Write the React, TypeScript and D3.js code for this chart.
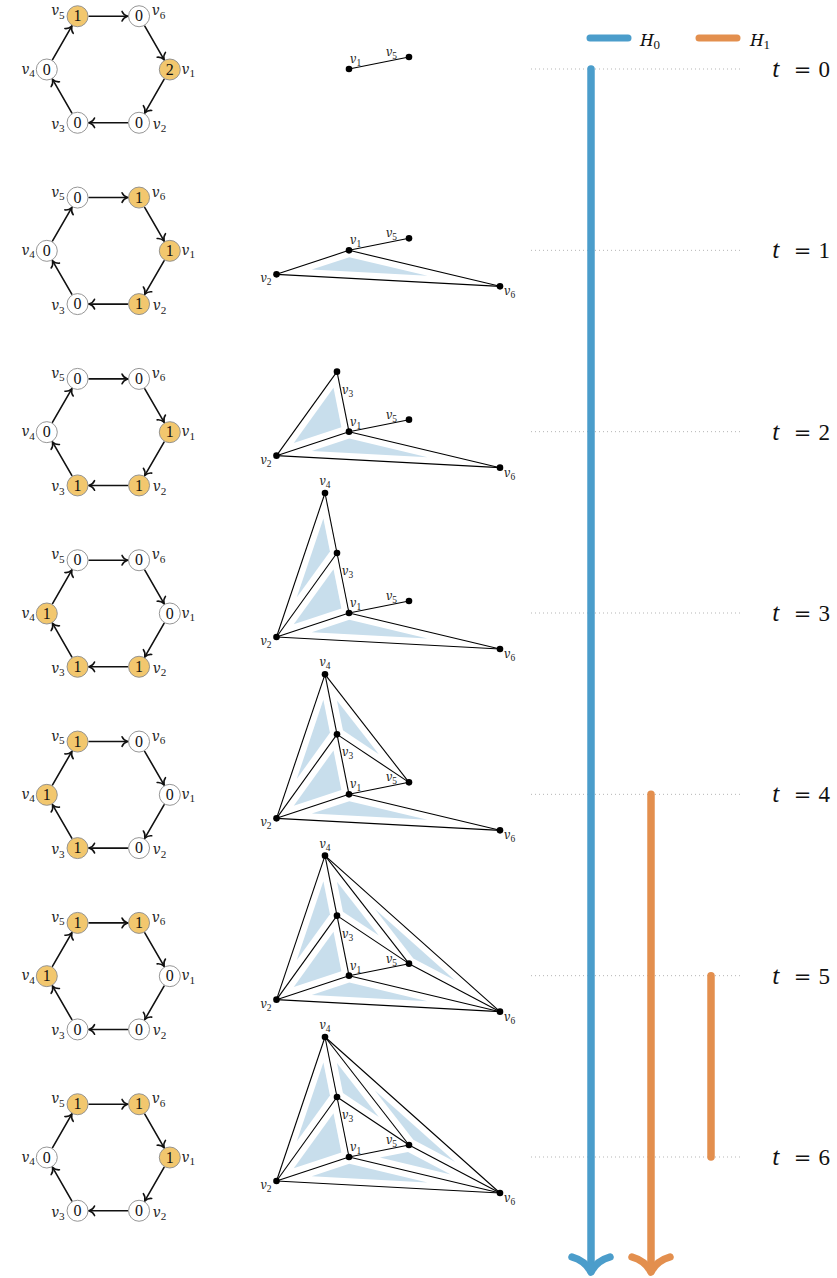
import React from 'react';
import * as d3 from 'd3';

// filtration steps
const times = [0, 1, 2, 3, 4, 5, 6];
const vertexNames = ['1', '2', '3', '4', '5', '6'];

// chip counts on the cycle graph, order v1..v6, one row per t
const chipCounts = [
  [2, 0, 0, 0, 1, 0],
  [1, 1, 0, 0, 0, 1],
  [1, 1, 1, 0, 0, 0],
  [0, 1, 1, 1, 0, 0],
  [0, 0, 1, 1, 1, 0],
  [0, 0, 0, 1, 1, 1],
  [1, 0, 0, 0, 1, 1],
];

// simplicial complex: birth time of every simplex
const vertexBirth = [0, 1, 2, 3, 0, 1];
const edges = [
  [1, 5, 0], [1, 2, 1], [1, 6, 1], [2, 6, 1], [1, 3, 2], [2, 3, 2],
  [3, 4, 3], [2, 4, 3], [3, 5, 4], [4, 5, 4], [4, 6, 5], [5, 6, 5],
];
const triangles = [
  [1, 2, 6, 1], [1, 2, 3, 2], [2, 3, 4, 3], [3, 4, 5, 4], [4, 5, 6, 5], [1, 5, 6, 6],
];
// embedding of the vertices (local units, v1 at origin)
const embedX = [0, -72.5, -12, -24, 60, 151];
const embedY = [0, 24, -60, -120, -12, 36];

// persistence barcode
const barDims = [0, 1, 1];
const barBirth = [0, 4, 5];
const barDeath = [null, null, 6];

const BLUE = '#4b9dcb';
const ORANGE = '#e38f4e';
const YELLOW = '#f2c76e';
const SHADE = '#c8deec';
const serif = { fontFamily: "'Liberation Serif'" };
// Liberation Serif italic falls back to a sans face here, Noto Serif italic is safe
const ital = { fontFamily: "'Noto Serif'", fontStyle: 'italic' };

const yScale = d3.scaleLinear().domain([0, 6]).range([69, 1157]);
const xC = d3.scaleLinear().domain([0, 1]).range([349, 350]);
const yC = d3.scaleLinear().domain([0, 1]).range([0, 1]);
const barX = d3.scalePoint<number>().domain([0, 1, 2]).range([591, 711]);
const line = d3.line();

const hexCx = 108.3;
const hexR = 61.5;
const nodeR = 10.5;
const hexLabel = [
  [12, 4, 'start'], [14, 6, 'start'], [-13, 6, 'end'],
  [-12, 4, 'end'], [-13, -1, 'end'], [13, -1, 'start'],
];
const cxLabel = [
  [1, -6, 'start'], [-5, 8, 'end'], [5, 22, 'start'],
  [0, -8, 'middle'], [-12, -1, 'end'], [4, 9, 'start'],
];

function arrowHead(tip: number[], dir: number[], a: number, b: number) {
  const [ux, uy] = dir;
  const nx = -uy, ny = ux;
  const p = (al: number, lat: number) => [tip[0] - ux * al + nx * lat, tip[1] - uy * al + ny * lat];
  const e1 = p(a, b), c1 = p(a * 0.75, b * 0.3), e2 = p(a, -b), c2 = p(a * 0.75, -b * 0.3);
  return `M${e1}Q${c1} ${tip}Q${c2} ${e2}`;
}

function inset(pts: number[][], d: number) {
  const cx = (pts[0][0] + pts[1][0] + pts[2][0]) / 3;
  const cy = (pts[0][1] + pts[1][1] + pts[2][1]) / 3;
  const offs = pts.map((p, i) => {
    const q = pts[(i + 1) % 3];
    const dx = q[0] - p[0], dy = q[1] - p[1];
    const L = Math.hypot(dx, dy);
    let nx = -dy / L, ny = dx / L;
    if ((cx - p[0]) * nx + (cy - p[1]) * ny < 0) { nx = -nx; ny = -ny; }
    return { px: p[0] + nx * d, py: p[1] + ny * d, dx, dy };
  });
  return pts.map((_, i) => {
    const A = offs[(i + 2) % 3], B = offs[i];
    const den = A.dx * B.dy - A.dy * B.dx;
    const s = ((B.px - A.px) * B.dy - (B.py - A.py) * B.dx) / den;
    return [A.px + A.dx * s, A.py + A.dy * s] as [number, number];
  });
}

const VLabel = ({ x, y, name, fs, anchor }: any) => (
  <text x={x} y={y} style={serif} fontSize={fs} textAnchor={anchor} fill="#222">
    <tspan style={ital} fontSize={fs * 0.88}>v</tspan>
    <tspan fontSize={fs * 0.7} dy={fs * 0.22}>{name}</tspan>
  </text>
);

const Hexagon = ({ t }: { t: number }) => {
  const cy = yScale(t) + 0.5;
  const pos = vertexNames.map((_, i) => {
    const ang = (i * Math.PI) / 3;
    return [hexCx + hexR * Math.cos(ang), cy + hexR * Math.sin(ang)];
  });
  return (
    <g>
      {pos.map((p, i) => {
        const q = pos[(i + 1) % 6];
        const L = Math.hypot(q[0] - p[0], q[1] - p[1]);
        const u = [(q[0] - p[0]) / L, (q[1] - p[1]) / L];
        const s = [p[0] + u[0] * (nodeR + 1), p[1] + u[1] * (nodeR + 1)];
        const e = [q[0] - u[0] * (nodeR + 1), q[1] - u[1] * (nodeR + 1)];
        return (
          <g key={i} stroke="#111" strokeWidth={1.6} fill="none" strokeLinecap="round">
            <path d={line([s as [number, number], e as [number, number]]) as string} />
            <path d={arrowHead(e, u, 5.5, 4.8)} />
          </g>
        );
      })}
      {pos.map((p, i) => (
        <g key={'n' + i}>
          <circle cx={p[0]} cy={p[1]} r={nodeR} fill={chipCounts[t][i] > 0 ? YELLOW : '#fff'}
            stroke="#8a8a8a" strokeWidth={0.9} />
          <text x={p[0]} y={p[1] + 5.2} textAnchor="middle" style={serif} fontSize={16} fill="#111">
            {chipCounts[t][i]}
          </text>
          <VLabel x={p[0] + (hexLabel[i][0] as number)} y={p[1] + (hexLabel[i][1] as number)}
            name={vertexNames[i]} fs={16} anchor={hexLabel[i][2]} />
        </g>
      ))}
    </g>
  );
};

const Complex = ({ t }: { t: number }) => {
  const ty = yScale(t);
  const P = (v: number): [number, number] => [xC(embedX[v - 1]), ty + yC(embedY[v - 1])];
  return (
    <g>
      {triangles.filter(tr => tr[3] <= t).map((tr, i) => (
        <path key={'t' + i} d={(line(inset([P(tr[0]), P(tr[1]), P(tr[2])], 6.6)) as string) + 'Z'}
          fill={SHADE} />
      ))}
      {edges.filter(e => e[2] <= t).map((e, i) => (
        <path key={'e' + i} d={line([P(e[0]), P(e[1])]) as string} stroke="#000" strokeWidth={1.1} />
      ))}
      {vertexBirth.map((b, i) => b <= t ? (
        <g key={'v' + i}>
          <circle cx={P(i + 1)[0]} cy={P(i + 1)[1]} r={3.3} fill="#000" />
          <VLabel x={P(i + 1)[0] + (cxLabel[i][0] as number)} y={P(i + 1)[1] + (cxLabel[i][1] as number)}
            name={vertexNames[i]} fs={13.5} anchor={cxLabel[i][2]} />
        </g>
      ) : null)}
    </g>
  );
};

export default function App() {
  const arrowTip = 1272;
  return (
    <svg width={837} height={1278} style={{ position: 'absolute', left: 0, top: 0, background: '#fff' }}>
      {times.map(t => (
        <g key={'r' + t}>
          <line x1={531} x2={743} y1={yScale(t)} y2={yScale(t)} stroke="#b5b5b5" strokeWidth={1}
            strokeDasharray="1 3" />
          <text x={772} y={yScale(t) + 8} style={ital} fontSize={21} fill="#111">t</text>
          <text x={802.5} y={yScale(t) + 8} style={{ fontFamily: "'DejaVu Serif'" }} fontSize={21}
            fill="#111" textAnchor="middle">=</text>
          <text x={830} y={yScale(t) + 8} style={serif} fontSize={23} fill="#111" textAnchor="end">{t}</text>
          <Hexagon t={t} />
          <Complex t={t} />
        </g>
      ))}
      {barDims.map((dim, i) => {
        const x = barX(i) as number;
        const col = dim === 0 ? BLUE : ORANGE;
        const y0 = yScale(barBirth[i]);
        const d = barDeath[i];
        const y1 = d === null ? arrowTip - 2 : yScale(d);
        return (
          <g key={'b' + i} stroke={col} strokeWidth={7.5} strokeLinecap="round" fill="none">
            <path d={line([[x, y0], [x, y1]]) as string} />
            {d === null && <path d={arrowHead([x, arrowTip], [0, 1], 15, 19)} strokeLinejoin="round" />}
          </g>
        );
      })}
      {/* legend */}
      <g strokeWidth={7} strokeLinecap="round">
        <line x1={590} x2={628} y1={38} y2={38} stroke={BLUE} />
        <line x1={699} x2={737} y1={38} y2={38} stroke={ORANGE} />
      </g>
      <text x={640} y={46} style={serif} fontSize={19} fill="#111">
        <tspan style={ital} fontSize={17}>H</tspan><tspan fontSize={13} dy={3}>0</tspan>
      </text>
      <text x={750} y={46} style={serif} fontSize={19} fill="#111">
        <tspan style={ital} fontSize={17}>H</tspan><tspan fontSize={13} dy={3}>1</tspan>
      </text>
    </svg>
  );
}
